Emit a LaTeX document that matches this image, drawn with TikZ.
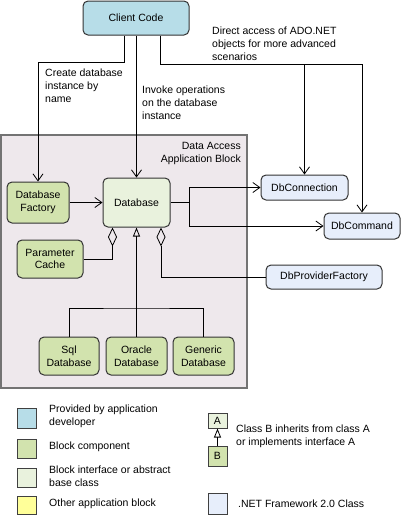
\documentclass[tikz,border=0pt]{standalone}
\usepackage{fontspec}
\setmainfont{Liberation Sans}
\usetikzlibrary{arrows.meta}

\definecolor{devblue}{HTML}{B7DDE8}
\definecolor{blockgreen}{HTML}{D2E3AE}
\definecolor{ifacegreen}{HTML}{E9F2DD}
\definecolor{otheryellow}{HTML}{FFFF99}
\definecolor{netblue}{HTML}{E7EEFB}
\definecolor{areagray}{HTML}{EEE8EC}

\tikzset{
  txt/.style={inner sep=0pt,align=left,font=\fontsize{10.5}{12.8}\selectfont},
  box/.style={draw=black!80,line width=1pt,rounded corners=5pt,inner sep=0pt,
    align=center,font=\fontsize{10.5}{12.8}\selectfont},
  swatch/.style={draw=black!75,line width=1pt,inner sep=0pt,
    minimum width=19pt,font=\fontsize{10.5}{12.8}\selectfont},
  arr/.style={line width=0.8pt,-{Straight Barb[length=7pt,width=10pt]}},
  inh/.style={line width=0.8pt,-{Triangle[open,length=9pt,width=7pt]}},
  agg/.style={line width=0.8pt,-{Diamond[open,length=19pt,width=9pt]}},
  wire/.style={line width=0.8pt}
}

\begin{document}
\begin{tikzpicture}[x=1pt,y=-1pt]
  \useasboundingbox (0,0) rectangle (401,515);

  % 应用块背景
  \draw[fill=areagray,draw=black!55,line width=1.5pt] (1,135) rectangle (247,388);
  \node[txt,align=right,anchor=east] (blocklabel) at (241,153.5) {Data Access\\Application Block};

  % 节点
  \node[box,fill=devblue,minimum width=106pt,minimum height=34pt] (client) at (136,18) {Client Code};
  \node[box,fill=blockgreen,minimum width=62pt,minimum height=41pt] (dbfactory) at (38,202.5) {Database\\Factory};
  \node[box,fill=ifacegreen,minimum width=67pt,minimum height=49pt] (database) at (136.5,202.5) {Database};
  \node[box,fill=blockgreen,minimum width=66pt,minimum height=38pt] (pcache) at (50,259) {Parameter\\Cache};
  \node[box,fill=netblue,minimum width=87pt,minimum height=25pt] (dbconn) at (304.5,187.5) {DbConnection};
  \node[box,fill=netblue,minimum width=76pt,minimum height=26pt] (dbcmd) at (362,226) {DbCommand};
  \node[box,fill=netblue,minimum width=116pt,minimum height=24pt] (dbprov) at (324,277) {DbProviderFactory};
  \node[box,fill=blockgreen,minimum width=60pt,minimum height=38pt] (sqldb) at (69,356) {Sql\\Database};
  \node[box,fill=blockgreen,minimum width=61pt,minimum height=38pt] (oracledb) at (136.5,356) {Oracle\\Database};
  \node[box,fill=blockgreen,minimum width=61pt,minimum height=38pt] (genericdb) at (203.5,356) {Generic\\Database};

  % 说明文字
  \node[txt,anchor=west] (createlabel) at (45,86) {Create database\\instance by\\name};
  \node[txt,anchor=west] (invokelabel) at (142,103) {Invoke operations\\on the database\\instance};
  \node[txt,anchor=west] (directlabel) at (212,43.5) {Direct access of ADO.NET\\objects for more advanced\\scenarios};

  % 连线
  \coordinate (c1) at (124,62);
  \coordinate (c2) at (160.5,64);
  \coordinate (c3) at (189,202.5);
  \coordinate (c4) at (136.5,308);
  \draw[arr] (c1 |- client.south) -- (c1) -| (dbfactory.north);
  \draw[arr] (database.north |- client.south) -- (database.north);
  \draw[arr] (c2 |- client.south) -- (c2) -| (dbcmd.north);
  \draw[arr] (c2) -| (dbconn.north);
  \draw[arr] (dbfactory) -- (database);
  \draw[wire] (database.east) -- (c3);
  \draw[arr] (c3) |- (dbconn.west);
  \draw[arr] (c3) |- (dbcmd.west);
  \draw[agg] (pcache.east) -| ([xshift=-24pt]database.south);
  \draw[agg] (dbprov.west) -| ([xshift=24.5pt]database.south);
  \draw[inh] (oracledb.north) -- (database.south);
  \draw[wire] (sqldb.north) |- (c4) -| (genericdb.north);

  % 图例
  \node[swatch,fill=devblue,minimum height=20pt] (leg1) at (26.5,418) {};
  \node[swatch,fill=blockgreen,minimum height=19pt] (leg2) at (26.5,448.5) {};
  \node[swatch,fill=ifacegreen,minimum height=19pt] (leg3) at (26.5,477.5) {};
  \node[swatch,fill=otheryellow,minimum height=18pt] (leg4) at (26.5,505) {};
  \node[txt,anchor=west] (leg1text) at (49,416.5) {Provided by application\\developer};
  \node[txt,anchor=west] (leg2text) at (49,447) {Block component};
  \node[txt,anchor=west] (leg3text) at (49,476) {Block interface or abstract\\base class};
  \node[txt,anchor=west] (leg4text) at (49,504) {Other application block};

  \node[swatch,fill=ifacegreen,minimum height=15pt] (legA) at (217.5,420.5) {A};
  \node[swatch,fill=blockgreen,minimum height=20pt] (legB) at (217.5,456) {B};
  \draw[inh] (legB.north) -- (legA.south);
  \node[txt,anchor=west] (inhtext) at (236,436.5) {Class B inherits from class A\\or implements interface A};
  \node[swatch,fill=netblue,minimum height=21pt] (leg5) at (217.5,503.5) {};
  \node[txt,anchor=west] (leg5text) at (238,504) {.NET Framework 2.0 Class};
\end{tikzpicture}
\end{document}
